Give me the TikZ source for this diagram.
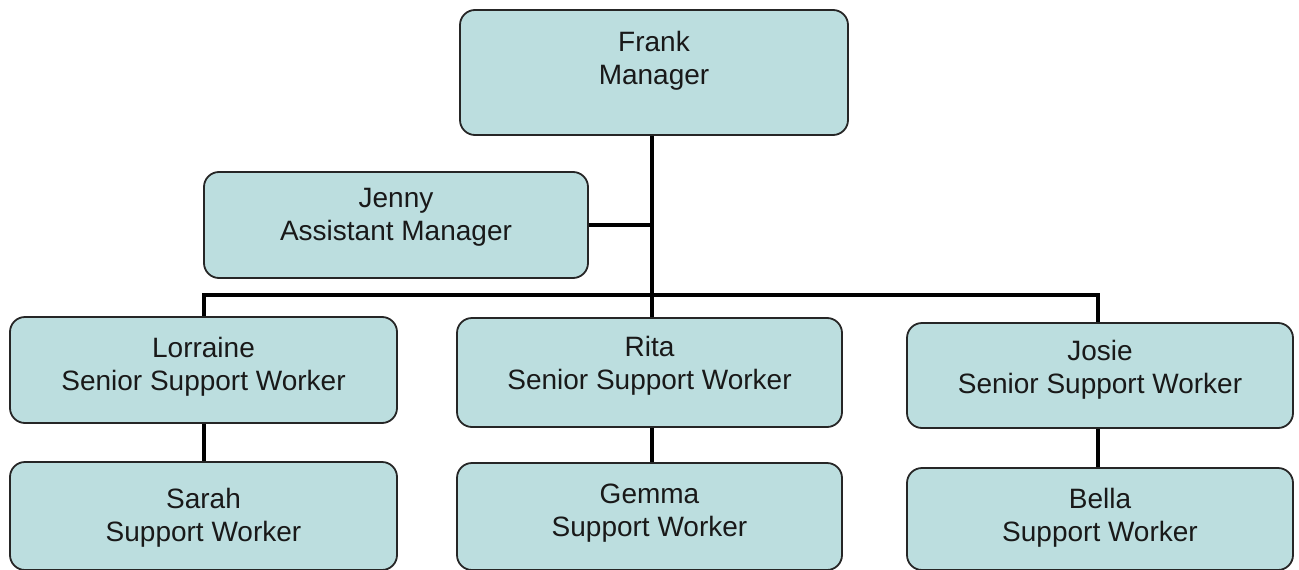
\documentclass[tikz,border=0pt]{standalone}
\usepackage{fontspec}
\setmainfont{Liberation Sans}
\begin{document}
\begin{tikzpicture}[x=1pt,y=-1pt,
  card/.style={draw=black!85, line width=1.8pt, fill=cardfill,
    rounded corners=15pt, inner sep=0pt},
  cardtext/.style={align=center, inner sep=0pt, text=black!90,
    font=\fontsize{28}{33}\selectfont},
  link/.style={line width=4.8pt, draw=black}]
\definecolor{cardfill}{RGB}{188,222,223}
\useasboundingbox (0,0) rectangle (1299,570);
\fill[white] (0,0) rectangle (1299,570);

% staff boxes
\node[card, minimum width=388pt, minimum height=125pt] (frank) at (654,72.5) {};
\node[card, minimum width=384pt, minimum height=106pt] (jenny) at (396,225) {};
\node[card, minimum width=387pt, minimum height=106pt] (lorraine) at (203.5,370) {};
\node[card, minimum width=385pt, minimum height=109pt] (rita) at (649.5,372.5) {};
\node[card, minimum width=386pt, minimum height=105pt] (josie) at (1100,375.5) {};
\node[card, minimum width=387pt, minimum height=108pt] (sarah) at (203.5,516) {};
\node[card, minimum width=385pt, minimum height=107pt] (gemma) at (649.5,516.5) {};
\node[card, minimum width=386pt, minimum height=102pt] (bella) at (1100,519) {};

% names and roles
\node[cardtext] (frank-t) at (654,61) {Frank\\Manager};
\node[cardtext] (jenny-t) at (396,217.5) {Jenny\\Assistant Manager};
\node[cardtext] (lorraine-t) at (203.5,366.5) {Lorraine\\Senior Support Worker};
\node[cardtext] (rita-t) at (649.5,366) {Rita\\Senior Support Worker};
\node[cardtext] (josie-t) at (1100,370) {Josie\\Senior Support Worker};
\node[cardtext] (sarah-t) at (203.5,517.5) {Sarah\\Support Worker};
\node[cardtext] (gemma-t) at (649.5,513) {Gemma\\Support Worker};
\node[cardtext] (bella-t) at (1100,517.5) {Bella\\Support Worker};

% junctions of the reporting lines
\coordinate (trunk) at (652,295);
\coordinate (barL) at (204,295);
\coordinate (barR) at (1098,295);

\draw[link] (frank.south -| trunk) -- (trunk);
\draw[link] (jenny.east) -- (jenny.east -| trunk);
\draw[link, line cap=rect] (barL) -- (barR);
\draw[link] (barL) -- (lorraine.north -| barL);
\draw[link] (trunk) -- (rita.north -| trunk);
\draw[link] (barR) -- (josie.north -| barR);
\draw[link] (lorraine.south -| barL) -- (sarah.north -| barL);
\draw[link] (rita.south -| trunk) -- (gemma.north -| trunk);
\draw[link] (josie.south -| barR) -- (bella.north -| barR);
\end{tikzpicture}
\end{document}
